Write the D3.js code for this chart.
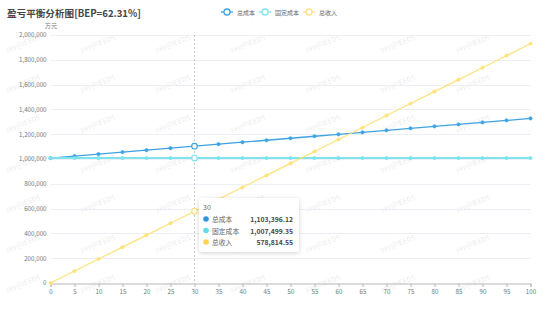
<!DOCTYPE html>
<html>
<head>
<meta charset="utf-8">
<script src="https://cdn.jsdelivr.net/npm/d3@7"></script>
<style>
  html, body { margin: 0; padding: 0; background: #fff; }
  svg { display: block; font-family: "Noto Sans CJK SC", "Noto Sans", sans-serif; }
</style>
</head>
<body>
<svg id="chart" width="553" height="326"></svg>
<script>
// Output quantity (x axis)
const quantity = [0, 5, 10, 15, 20, 25, 30, 35, 40, 45, 50, 55, 60, 65, 70, 75, 80, 85, 90, 95, 100];

// Cost / revenue series (万元)
const totalCost = [1007499.35, 1023482.15, 1039464.94, 1055447.74, 1071430.53, 1087413.33, 1103396.12,
  1119378.92, 1135361.71, 1151344.51, 1167327.30, 1183310.10, 1199292.89, 1215275.69, 1231258.48,
  1247241.28, 1263224.07, 1279206.87, 1295189.66, 1311172.46, 1327155.25];
const fixedCost = [1007499.35, 1007499.35, 1007499.35, 1007499.35, 1007499.35, 1007499.35, 1007499.35,
  1007499.35, 1007499.35, 1007499.35, 1007499.35, 1007499.35, 1007499.35, 1007499.35, 1007499.35,
  1007499.35, 1007499.35, 1007499.35, 1007499.35, 1007499.35, 1007499.35];
const totalRevenue = [0, 96469.09, 192938.18, 289407.28, 385876.37, 482345.46, 578814.55,
  675283.64, 771752.73, 868221.83, 964690.92, 1061160.01, 1157629.10, 1254098.19, 1350567.28,
  1447036.38, 1543505.47, 1639974.56, 1736443.65, 1832912.74, 1929381.83];

const seriesNames = ["总成本", "固定成本", "总收入"];
const yTicks = [0, 200000, 400000, 600000, 800000, 1000000, 1200000, 1400000, 1600000, 1800000, 2000000];
const titleText = "盈亏平衡分析图[BEP=62.31%]";
const unitText = "万元";
const hoverIndex = 6;

const colors = ["#3ea3e3", "#7fe3ec", "#ffe27a"];
const dotColors = ["#2d96dc", "#62dde6", "#fdd451"];

const svg = d3.select("#chart");
const W = 553, H = 326;
const margin = { left: 50.5, right: 22.5, top: 35, bottom: 43 };

const x = d3.scaleLinear().domain([0, 100]).range([margin.left, W - margin.right]);
const y = d3.scaleLinear().domain([0, 2000000]).range([H - margin.bottom, margin.top]);

// background watermark tiles (kept inside the canvas)
const wm = svg.append("g").attr("pointer-events", "none");
for (let cx = 23; cx <= 530; cx += 75) {
  for (let cy = 44; cy <= 316; cy += 40) {
    wm.append("text")
      .attr("transform", `translate(${cx},${cy}) rotate(-20)`)
      .attr("text-anchor", "middle")
      .attr("dominant-baseline", "middle")
      .attr("font-size", 7)
      .attr("fill", "rgba(160,160,160,0.24)")
      .text("yay@IEEDS");
  }
}

// horizontal grid
svg.append("g")
  .selectAll("line")
  .data(yTicks.filter(d => d > 0))
  .join("line")
  .attr("x1", x(0)).attr("x2", x(100))
  .attr("y1", d => Math.round(y(d)) + 0.5).attr("y2", d => Math.round(y(d)) + 0.5)
  .attr("stroke", "#eceff6").attr("stroke-width", 1);

// y axis labels
const yAxis = d3.axisLeft(y).tickValues(yTicks).tickSize(0).tickPadding(4)
  .tickFormat(d3.format(","));
const gy = svg.append("g").attr("transform", `translate(${margin.left},0)`).call(yAxis);
gy.select(".domain").remove();
gy.selectAll("text").attr("font-size", 6.2).attr("fill", "#777").attr("font-family", "'Noto Sans CJK SC', 'Noto Sans', sans-serif");

// x axis
const xAxis = d3.axisBottom(x).tickValues(quantity).tickSize(3.5).tickPadding(2.5);
const gx = svg.append("g").attr("transform", `translate(0,${Math.round(y(0)) + 0.5})`).call(xAxis);
gx.select(".domain").attr("stroke", "#b8b8b8");
gx.selectAll(".tick line").attr("stroke", "#b8b8b8");
gx.selectAll("text").attr("font-size", 6.2).attr("fill", "#777").attr("font-family", "'Noto Sans CJK SC', 'Noto Sans', sans-serif");

// unit label
svg.append("text").attr("x", 51).attr("y", 27.5).attr("text-anchor", "middle")
  .attr("font-size", 6.2).attr("fill", "#777").text(unitText);

// axis pointer for the hovered category
svg.append("line")
  .attr("x1", x(quantity[hoverIndex])).attr("x2", x(quantity[hoverIndex]))
  .attr("y1", margin.top).attr("y2", y(0))
  .attr("stroke", "#c8c8c8").attr("stroke-width", 1).attr("stroke-dasharray", "2,2");

// lines and markers
const series = [totalCost, fixedCost, totalRevenue];
const widths = [1.3, 2, 1.2];
const line = d3.line().x((d, i) => x(quantity[i])).y(d => y(d));
series.forEach((vals, s) => {
  svg.append("path").datum(vals)
    .attr("d", line).attr("fill", "none")
    .attr("stroke", colors[s]).attr("stroke-width", widths[s]);
});
series.forEach((vals, s) => {
  svg.append("g").selectAll("circle")
    .data(vals.map((v, i) => ({ v, i })))
    .join("circle")
    .attr("cx", d => x(quantity[d.i])).attr("cy", d => y(d.v))
    .attr("r", d => d.i === hoverIndex ? 2.8 : 1.6)
    .attr("fill", d => d.i === hoverIndex ? "#fff" : colors[s])
    .attr("stroke", colors[s]).attr("stroke-width", d => d.i === hoverIndex ? 1.2 : 0.8);
});

// title
svg.append("text").attr("x", 7).attr("y", 16.5)
  .attr("font-size", 9.6).attr("font-weight", "bold").attr("fill", "#464646")
  .text(titleText);

// legend
const legendX = [227, 265, 309];
const lg = svg.append("g");
seriesNames.forEach((name, s) => {
  const g = lg.append("g").attr("transform", `translate(${legendX[s]},12)`);
  g.append("line").attr("x1", -6).attr("x2", 6).attr("y1", 0).attr("y2", 0)
    .attr("stroke", colors[s]).attr("stroke-width", 1.3);
  g.append("circle").attr("r", 3).attr("fill", "#fff").attr("stroke", colors[s]).attr("stroke-width", 1.3);
  g.append("text").attr("x", 10).attr("y", 0).attr("dominant-baseline", "central")
    .attr("font-size", 6).attr("fill", "#666").text(name);
});

// tooltip
const defs = svg.append("defs");
const f = defs.append("filter").attr("id", "shadow").attr("x", "-20%").attr("y", "-20%").attr("width", "140%").attr("height", "150%");
f.append("feDropShadow").attr("dx", 0).attr("dy", 1).attr("stdDeviation", 2).attr("flood-color", "#000").attr("flood-opacity", 0.18);

const tip = svg.append("g").attr("transform", "translate(199,198)");
tip.append("rect").attr("width", 100).attr("height", 54).attr("rx", 3)
  .attr("fill", "#fff").attr("filter", "url(#shadow)");
tip.append("text").attr("x", 4).attr("y", 8.5).attr("dominant-baseline", "central")
  .attr("font-size", 7).attr("fill", "#666").text(quantity[hoverIndex]);
const fmt = d3.format(",.2f");
seriesNames.forEach((name, s) => {
  const ry = 21 + s * 11.5;
  tip.append("circle").attr("cx", 7).attr("cy", ry).attr("r", 2.8).attr("fill", dotColors[s]);
  tip.append("text").attr("x", 13).attr("y", ry).attr("dominant-baseline", "central")
    .attr("font-size", 6.8).attr("fill", "#666").text(name);
  tip.append("text").attr("x", 94).attr("y", ry).attr("dominant-baseline", "central")
    .attr("text-anchor", "end").attr("font-size", 6.8).attr("font-weight", "bold").attr("fill", "#464646")
    .text(fmt(series[s][hoverIndex]));
});
</script>
</body>
</html>
